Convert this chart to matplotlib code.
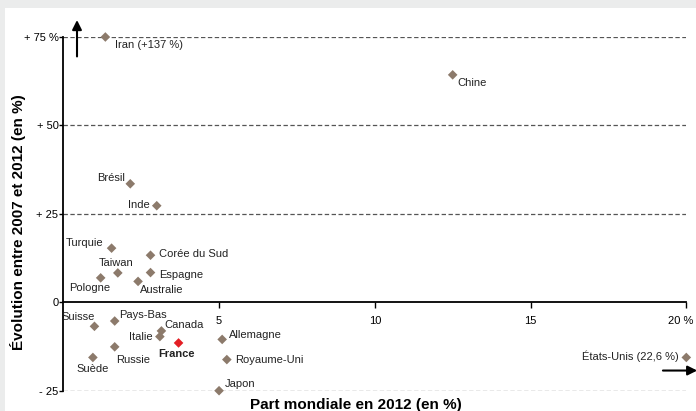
import matplotlib
matplotlib.use("Agg")
import matplotlib.pyplot as plt
import matplotlib.patches as patches
import matplotlib.transforms as mtransforms

plt.rcParams['font.family'] = ['Liberation Sans', 'DejaVu Sans']

countries = ["Iran (+137 %)", "Chine", "Brésil", "Inde", "Turquie", "Corée du Sud",
             "Taiwan", "Espagne", "Pologne", "Australie", "Suisse", "Pays-Bas",
             "Canada", "Italie", "France", "Allemagne", "Russie", "Suède",
             "Royaume-Uni", "Japon", "États-Unis (22,6 %)"]
share_2012 = [1.35, 12.5, 2.15, 3.0, 1.55, 2.8, 1.75, 2.8, 1.2, 2.4, 1.0, 1.65,
              3.15, 3.1, 3.7, 5.1, 1.65, 0.95, 5.25, 5.0, 20.0]
growth = [75, 64.3, 33.5, 27.3, 15.3, 13.3, 8.3, 8.4, 6.9, 5.9, -6.8, -5.3,
          -8.1, -9.7, -11.5, -10.5, -12.6, -15.6, -16.2, -25.0, -15.6]

y_ticks = [-25, 0, 25, 50, 75]
y_tick_labels = ["- 25", "0", "+ 25", "+ 50", "+ 75 %"]
x_ticks = [5, 10, 15, 20]
x_tick_labels = ["5", "10", "15", "20 %"]

# label offsets in pixels (dx, dy) and alignment
label_style = {
    "Iran (+137 %)": (10, -8, 'left'),
    "Chine": (5, -8, 'left'),
    "Brésil": (-5, 6, 'right'),
    "Inde": (-7, 1, 'right'),
    "Turquie": (-8, 5, 'right'),
    "Corée du Sud": (8, 1, 'left'),
    "Taiwan": (-2, 10, 'center'),
    "Espagne": (9, -2, 'left'),
    "Pologne": (-11, -10, 'center'),
    "Australie": (24, -9, 'center'),
    "Suisse": (0, 9, 'right'),
    "Pays-Bas": (4, 6, 'left'),
    "Canada": (3, 6, 'left'),
    "Italie": (-7, 0, 'right'),
    "France": (-2, -11, 'center'),
    "Allemagne": (7, 4, 'left'),
    "Russie": (1, -13, 'left'),
    "Suède": (0, -12, 'center'),
    "Royaume-Uni": (8, 0, 'left'),
    "Japon": (6, 7, 'left'),
    "États-Unis (22,6 %)": (-8, 1, 'right'),
}

W, H = 696, 411
fig = plt.figure(figsize=(W / 100, H / 100), dpi=100)
fig.patch.set_facecolor('#ebecec')
bg = patches.Rectangle((5 / W, 0), 1, (H - 8) / H, transform=fig.transFigure,
                       facecolor='white', edgecolor='none', zorder=-10)
fig.add_artist(bg)

ax_l, ax_r, ax_t, ax_b = 63.3, 686.3, 37.0, 390.7
ax = fig.add_axes([ax_l / W, (H - ax_b) / H, (ax_r - ax_l) / W, (ax_b - ax_t) / H])
ax.set_zorder(1)
ax.set_facecolor('none')
ax.set_xlim(0, 20)
ax.set_ylim(-25, 75)

for s in ['top', 'right']:
    ax.spines[s].set_visible(False)
ax.spines['bottom'].set_position(('data', 0))
ax.spines['bottom'].set_linewidth(1.3)
ax.spines['left'].set_linewidth(1.3)

ax.set_yticks(y_ticks)
ax.set_yticklabels(y_tick_labels, fontsize=8)
ax.set_xticks(x_ticks)
ax.set_xticklabels(x_tick_labels, fontsize=8)
ax.tick_params(axis='y', length=3, width=1, pad=0.5)
ax.tick_params(axis='x', length=4, width=1, pad=6)
last = ax.get_xticklabels()[-1]
last.set_transform(last.get_transform() + mtransforms.ScaledTranslation(-0.06, 0, fig.dpi_scale_trans))

for yv in [-25, 25, 50, 75]:
    ax.axhline(yv, color='#555555', lw=0.9, dashes=(3.5, 2), zorder=1)

colors = ['#e31e24' if c == "France" else '#8c7a6b' for c in countries]
ax.scatter(share_2012, growth, marker='D', s=24, c=colors, zorder=3, clip_on=False, linewidths=0)

for c, xv, yv in zip(countries, share_2012, growth):
    dx, dy, ha = label_style[c]
    ax.annotate(c, (xv, yv), xytext=(dx, dy), textcoords='offset pixels',
                ha=ha, va='center', fontsize=8,
                fontweight='bold' if c == "France" else 'normal',
                color='#222222', annotation_clip=False, zorder=4)

# arrows
ax.annotate('', xy=(0.44, 79.8), xytext=(0.44, 69.5),
            arrowprops=dict(arrowstyle='-|>', color='black', lw=1.5, mutation_scale=14,
                            shrinkA=0, shrinkB=0),
            annotation_clip=False)
ax.annotate('', xy=(20.35, -19.3), xytext=(19.25, -19.3),
            arrowprops=dict(arrowstyle='-|>', color='black', lw=1.5, mutation_scale=14,
                            shrinkA=0, shrinkB=0),
            annotation_clip=False)

fig.text(18 / W, 1 - 222 / H, "Évolution entre 2007 et 2012 (en %)", rotation=90,
         ha='center', va='center', fontsize=11, fontweight='bold')
fig.text(356 / W, 1 - 405 / H, "Part mondiale en 2012 (en %)",
         ha='center', va='center', fontsize=11, fontweight='bold')

fig.savefig('out.png', dpi=100, facecolor=fig.get_facecolor())
